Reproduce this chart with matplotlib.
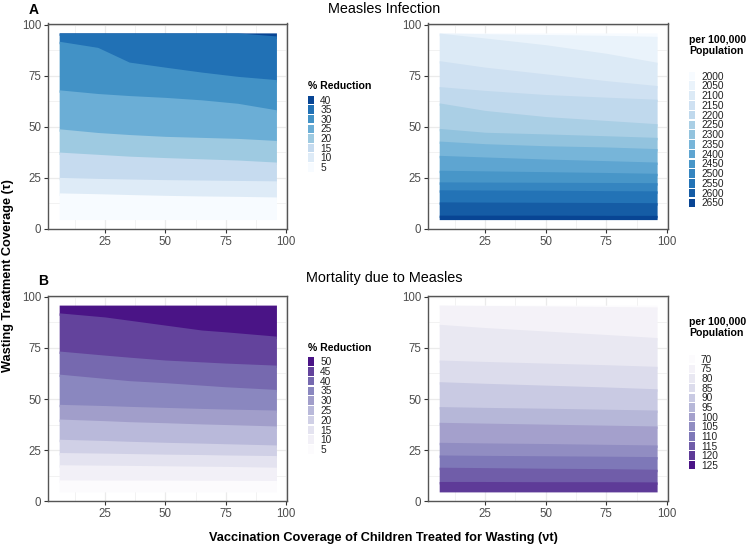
import matplotlib
matplotlib.use("Agg")
import matplotlib.pyplot as plt
from matplotlib.colors import LinearSegmentedColormap
from matplotlib.patches import Rectangle
import numpy as np

plt.rcParams['font.family'] = ['Liberation Sans', 'DejaVu Sans']

# ---------------- data ----------------
# Panel A left: Measles infection, % reduction
vacc_a_red = [6, 22, 35, 50, 65, 80, 96]
levels_a_red = [5, 10, 15, 20, 25, 30, 35, 40]          # band labels, bottom -> top
bounds_a_red = [
    [4.5, 4.5, 4.5, 4.5, 4.5, 4.5, 4.5],
    [17.6, 17.2, 16.8, 16.4, 16.1, 15.9, 15.6],
    [25.2, 24.7, 24.4, 24.1, 23.9, 23.7, 23.5],
    [37.6, 36.5, 35.6, 34.9, 34.3, 33.7, 32.7],
    [49.0, 47.2, 46.2, 45.3, 44.8, 44.3, 43.3],
    [68.1, 66.3, 65.3, 64.4, 63.2, 61.5, 58.3],
    [91.9, 88.9, 81.7, 79.2, 76.8, 74.7, 73.1],
    [96.0, 96.0, 96.0, 96.0, 96.0, 96.0, 94.5],
    [96.0, 96.0, 96.0, 96.0, 96.0, 96.0, 96.0],
]

# Panel A right: Measles infection per 100,000
vacc_a_pop = [6, 25, 50, 75, 96]
levels_a_pop = [2650, 2600, 2550, 2500, 2450, 2400, 2350, 2300, 2250,
                2200, 2150, 2100, 2050, 2000]            # bottom -> top
bounds_a_pop = [
    [4.5, 4.5, 4.5, 4.5, 4.5],
    [6.7, 6.7, 6.7, 6.6, 6.6],
    [13.2, 13.1, 13.0, 12.9, 12.8],
    [19.1, 19.0, 18.9, 18.7, 18.6],
    [23.0, 22.9, 22.8, 22.7, 22.6],
    [28.7, 28.4, 28.0, 27.6, 27.2],
    [36.0, 35.2, 34.2, 33.4, 32.7],
    [43.0, 41.7, 40.7, 40.1, 39.3],
    [49.2, 47.3, 46.5, 45.6, 44.8],
    [61.7, 58.0, 55.0, 53.1, 51.5],
    [69.7, 67.8, 65.8, 64.5, 63.5],
    [82.4, 79.2, 75.9, 72.6, 70.2],
    [95.9, 93.5, 90.2, 86.0, 81.6],
    [96.0, 95.6, 95.2, 94.8, 94.3],
    [96.0, 96.0, 96.0, 96.0, 96.0],
]

# Panel B left: Mortality, % reduction
vacc_b_red = [6, 25, 35, 50, 65, 75, 96]
levels_b_red = [5, 10, 15, 20, 25, 30, 35, 40, 45, 50]
bounds_b_red = [
    [4.5, 4.5, 4.5, 4.5, 4.5, 4.5, 4.5],
    [10.4, 10.3, 10.3, 10.3, 10.2, 10.2, 10.1],
    [17.8, 17.6, 17.5, 17.3, 17.1, 17.0, 16.6],
    [23.8, 23.5, 23.3, 23.0, 22.8, 22.6, 22.3],
    [30.3, 29.7, 29.3, 28.8, 28.4, 28.1, 27.5],
    [40.2, 39.4, 38.9, 38.4, 37.8, 37.5, 36.8],
    [47.4, 46.8, 46.4, 45.9, 45.4, 45.1, 44.6],
    [62.2, 60.1, 59.0, 58.0, 56.8, 56.0, 54.7],
    [73.5, 71.5, 70.5, 69.1, 68.2, 67.6, 66.6],
    [92.2, 90.2, 88.6, 86.2, 83.8, 82.9, 80.8],
    [96.0, 96.0, 96.0, 96.0, 96.0, 96.0, 96.0],
]

# Panel B right: Mortality per 100,000
vacc_b_pop = [6, 25, 50, 75, 96]
levels_b_pop = [120, 115, 110, 105, 100, 95, 90, 85, 80, 75, 70]   # bottom -> top
legend_b_pop = [70, 75, 80, 85, 90, 95, 100, 105, 110, 115, 120, 125]
bounds_b_pop = [
    [4.5, 4.5, 4.5, 4.5, 4.5],
    [9.6, 9.6, 9.5, 9.5, 9.4],
    [16.6, 16.4, 16.1, 15.9, 15.6],
    [22.6, 22.4, 22.2, 22.0, 21.8],
    [28.8, 28.5, 28.2, 27.8, 27.5],
    [38.6, 38.2, 37.7, 37.2, 36.8],
    [46.3, 45.9, 45.5, 45.0, 44.6],
    [58.5, 57.7, 56.8, 55.9, 55.0],
    [69.1, 68.4, 67.6, 66.8, 66.0],
    [86.6, 85.0, 83.3, 81.6, 80.1],
    [96.0, 95.8, 95.6, 95.3, 95.1],
    [96.0, 96.0, 96.0, 96.0, 96.0],
]

x_ticks = [25, 50, 75, 100]
y_ticks = [0, 25, 50, 75, 100]

# ---------------- styling ----------------
BLUES8 = ["#F7FBFF", "#DEEBF7", "#C6DBEF", "#9ECAE1", "#6BAED6", "#4292C6", "#2171B5", "#084594"]
PURPLES8 = ["#FCFBFD", "#EFEDF5", "#DADAEB", "#BCBDDC", "#9E9AC8", "#807DBA", "#6A51A3", "#4A1486"]


def ramp(base, n):
    cm = LinearSegmentedColormap.from_list("r", base)
    return [cm(i / (n - 1)) for i in range(n)]


W, H = 754, 548
fig = plt.figure(figsize=(W / 100, H / 100), dpi=100)
fig.patch.set_facecolor("white")


def add_ax(l, t, r, b):
    return fig.add_axes([l / W, 1 - b / H, (r - l) / W, (b - t) / H])


def style_ax(ax):
    ax.set_xlim(1.5, 100.5)
    ax.set_ylim(-0.1, 100.6)
    ax.set_xticks(x_ticks)
    ax.set_yticks(y_ticks)
    ax.set_xticks([12.5, 37.5, 62.5, 87.5], minor=True)
    ax.set_yticks([12.5, 37.5, 62.5, 87.5], minor=True)
    ax.set_axisbelow(True)
    ax.grid(which="major", color="#ebebeb", lw=0.9)
    ax.grid(which="minor", color="#ebebeb", lw=0.45)
    ax.tick_params(which="major", length=3, width=0.8, color="#333333",
                   labelsize=8.3, labelcolor="#4d4d4d", pad=2)
    ax.tick_params(which="minor", length=0)
    for s in ax.spines.values():
        s.set_color("#555555")
        s.set_linewidth(1.0)


def draw_bands(ax, x, bounds, colors):
    n = len(bounds) - 1
    bottom = np.asarray(bounds[0], float)
    xs = np.asarray(x, float)
    for i in range(n - 1, -1, -1):
        lower = np.asarray(bounds[i], float)
        upper = np.asarray(bounds[i + 1], float)
        base = bottom if i == 0 else np.maximum(bottom, lower - 1.2)
        # horizontal overlap only for the inner bands to avoid seams
        ax.fill_between(xs, base, upper, color=colors[i], lw=0, zorder=1 + (n - i) * 0.01)


def draw_legend(title, labels, colors, x_sw, y_top, row_h, title_base):
    fig.text(x_sw / W, 1 - title_base / H, title, fontsize=7.6, fontweight="bold",
             ha="left", va="baseline", linespacing=1.05)
    for i, (lab, col) in enumerate(zip(labels, colors)):
        y0 = y_top + i * row_h
        fig.add_artist(Rectangle((x_sw / W, 1 - (y0 + row_h - 1.2) / H), 6 / W,
                                 (row_h - 1.2) / H, transform=fig.transFigure,
                                 facecolor=col, edgecolor="none"))
        fig.text((x_sw + 12) / W, 1 - (y0 + row_h / 2) / H, str(lab), fontsize=7.3,
                 ha="left", va="center", color="#222222")


# Panel A left
axA1 = add_ax(48.3, 23.5, 287.3, 229)
style_ax(axA1)
colsA1 = BLUES8
draw_bands(axA1, vacc_a_red, bounds_a_red, colsA1)
draw_legend("% Reduction", levels_a_red[::-1], colsA1[::-1], 308.3, 95.7, 9.63, 89)

# Panel A right
axA2 = add_ax(428.3, 23.5, 668, 229)
style_ax(axA2)
colsA2 = ramp(BLUES8, len(levels_a_pop))        # index 0 = lightest (2000)
band_cols_A2 = colsA2[::-1]                     # bottom band = darkest
draw_bands(axA2, vacc_a_pop, bounds_a_pop, band_cols_A2)
draw_legend("per 100,000\nPopulation", levels_a_pop[::-1], colsA2, 689, 71.7, 9.76, 53.5)

# Panel B left
axB1 = add_ax(48.3, 295.7, 287.3, 501.3)
style_ax(axB1)
colsB1 = ramp(PURPLES8, len(levels_b_red))
draw_bands(axB1, vacc_b_red, bounds_b_red, colsB1)
draw_legend("% Reduction", levels_b_red[::-1], colsB1[::-1], 308.3, 357.3, 9.77, 351)

# Panel B right
axB2 = add_ax(428.3, 295.7, 668, 501.3)
style_ax(axB2)
colsB2 = ramp(PURPLES8, len(legend_b_pop))      # index 0 = 70
band_cols_B2 = [colsB2[legend_b_pop.index(v)] for v in levels_b_pop]
draw_bands(axB2, vacc_b_pop, bounds_b_pop, band_cols_B2)
draw_legend("per 100,000\nPopulation", legend_b_pop, colsB2, 689, 355, 9.64, 335.5)

# Titles and labels
fig.text(384 / W, 1 - 13 / H, "Measles Infection", fontsize=10.4, ha="center", va="baseline")
fig.text(384 / W, 1 - 282 / H, "Mortality due to Measles", fontsize=10.4, ha="center", va="baseline")
fig.text(28.3 / W, 1 - 14 / H, "A", fontsize=10, fontweight="bold", ha="left", va="baseline")
fig.text(38.3 / W, 1 - 285 / H, "B", fontsize=10, fontweight="bold", ha="left", va="baseline")
fig.text(8.5 / W, 1 - 276 / H, "Wasting Treatment Coverage (\u03c4)", fontsize=9.2,
         fontweight="bold", rotation=90, ha="center", va="center")
fig.text(383 / W, 1 - 541 / H, "Vaccination Coverage of Children Treated for Wasting (\u03bdt)",
         fontsize=9.2, fontweight="bold", ha="center", va="baseline")

fig.savefig("out.png", dpi=100, facecolor="white")
